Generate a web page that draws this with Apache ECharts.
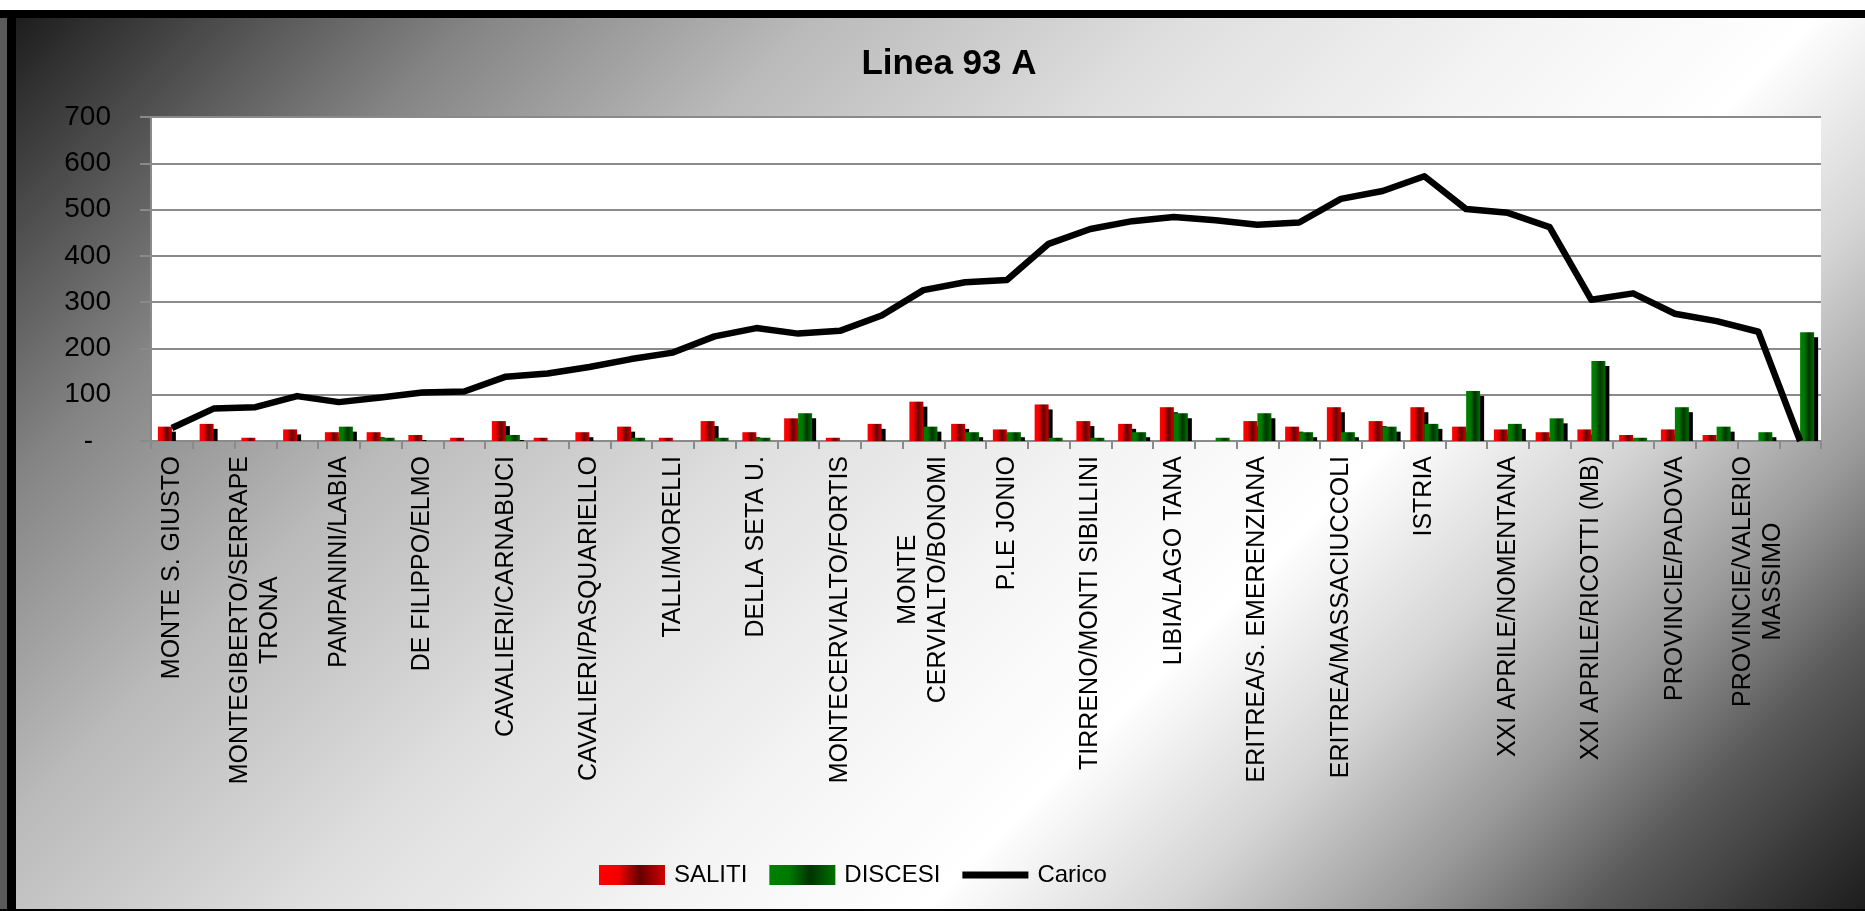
<!DOCTYPE html>
<html>
<head>
<meta charset="utf-8">
<title>Linea 93 A</title>
<script src="https://cdn.jsdelivr.net/npm/echarts@6/dist/echarts.min.js"></script>
<style>
  html, body { margin: 0; padding: 0; background: #fff; }
  #chart { width: 1865px; height: 911px; }
</style>
</head>
<body>
<div id="chart"></div>
<script>
// Fermate della linea (solo quelle pari hanno l'etichetta sull'asse)
const fermate = [
  'MONTE S. GIUSTO', '',
  'MONTEGIBERTO/SERRAPE\nTRONA', '',
  'PAMPANINI/LABIA', '',
  'DE FILIPPO/ELMO', '',
  'CAVALIERI/CARNABUCI', '',
  'CAVALIERI/PASQUARIELLO', '',
  'TALLI/MORELLI', '',
  'DELLA SETA U.', '',
  'MONTECERVIALTO/FORTIS', '',
  'MONTE\nCERVIALTO/BONOMI', '',
  'P.LE JONIO', '',
  'TIRRENO/MONTI SIBILLINI', '',
  'LIBIA/LAGO TANA', '',
  'ERITREA/S. EMERENZIANA', '',
  'ERITREA/MASSACIUCCOLI', '',
  'ISTRIA', '',
  'XXI APRILE/NOMENTANA', '',
  'XXI APRILE/RICOTTI (MB)', '',
  'PROVINCIE/PADOVA', '',
  'PROVINCIE/VALERIO\nMASSIMO', ''
];

const saliti = [31, 37, 7, 25, 19, 19, 13, 7, 43, 7,
                19, 31, 7, 43, 19, 49, 7, 37, 85, 37,
                25, 79, 43, 37, 73, 0, 43, 31, 73, 43,
                73, 31, 25, 19, 25, 13, 25, 13, 0, 0];

const discesi = [0, 0, 0, 0, 31, 7, 0, 0, 13, 0,
                 0, 7, 0, 7, 7, 60, 0, 0, 31, 19,
                 19, 7, 7, 19, 60, 7, 60, 19, 19, 31,
                 37, 108, 37, 49, 173, 7, 73, 31, 19, 235];

const carico = [28, 70, 73, 97, 84, 94, 105, 107, 139, 146,
                160, 177, 191, 226, 244, 232, 238, 271, 326, 343,
                348, 426, 458, 475, 484, 477, 467, 472, 523, 540,
                572, 501, 493, 462, 305, 319, 275, 259, 236, 0];

const yMin = 0, yMax = 700, yStep = 100;

const FONT = '"Liberation Sans", Arial, sans-serif';
const BAR_W = 14;          // larghezza di ciascuna barra
const SHADOW_DX = 4;       // ombra delle barre
const SHADOW_DY = 5;
const W = 1865, H = 911;

function hGrad(stops) {
  return {
    type: 'linear', x: 0, y: 0, x2: 1, y2: 0,
    colorStops: stops.map(([o, c]) => ({ offset: o, color: c }))
  };
}

const redFill = hGrad([[0, '#ff0000'], [0.3, '#f00000'], [0.62, '#660000'], [1, '#d00000']]);
const greenFill = hGrad([[0, '#008000'], [0.3, '#007800'], [0.62, '#003400'], [1, '#007000']]);

// Sfondo diagonale scuro - chiaro - scuro
const half = (W + H) / 2;
const background = {
  type: 'linear', x: 0, y: 0, x2: half, y2: half, global: true,
  colorStops: [
    { offset: 0, color: '#161616' },
    { offset: 0.08, color: '#484848' },
    { offset: 0.18, color: '#858585' },
    { offset: 0.3, color: '#bababa' },
    { offset: 0.44, color: '#e0e0e0' },
    { offset: 0.57, color: '#f5f5f5' },
    { offset: 0.66, color: '#ffffff' },
    { offset: 0.75, color: '#d4d4d4' },
    { offset: 0.83, color: '#9a9a9a' },
    { offset: 0.9, color: '#5a5a5a' },
    { offset: 1, color: '#1c1c1c' }
  ]
};

const chart = echarts.init(document.getElementById('chart'), null, { renderer: 'canvas' });

const option = {
  backgroundColor: background,
  animation: false,
  title: {
    text: 'Linea 93 A',
    left: 944,
    textAlign: 'center',
    top: 42,
    textStyle: { fontFamily: FONT, fontSize: 35, fontWeight: 'bold', color: '#000' }
  },
  legend: {
    left: 594,
    top: 858,
    itemWidth: 66,
    itemHeight: 20,
    itemGap: 22,
    textStyle: { fontFamily: FONT, fontSize: 24, color: '#000', padding: [0, 0, 0, 4] },
    data: [
      { name: 'SALITI', icon: 'rect' },
      { name: 'DISCESI', icon: 'rect' },
      { name: 'Carico', icon: 'path://M0,0H66V7H0Z' }
    ]
  },
  grid: {
    left: 151,
    right: 44,
    top: 117,
    bottom: 470,
    show: true,
    backgroundColor: '#ffffff',
    borderWidth: 0,
    containLabel: false,
    outerBoundsMode: 'none'
  },
  xAxis: {
    type: 'category',
    data: fermate,
    boundaryGap: true,
    axisLine: { show: true, lineStyle: { color: '#8a8a8a', width: 2 } },
    axisTick: { show: true, interval: 0, length: 8, lineStyle: { color: '#8a8a8a', width: 2 } },
    splitLine: { show: false },
    axisLabel: {
      interval: 1,
      rotate: 90,
      margin: 15,
      color: '#000',
      fontFamily: FONT,
      fontSize: 25,
      formatter: (val) => val ? val.split('\n').map(l => '{c|' + l + '}').join('\n') : '',
      rich: {
        c: { fontFamily: FONT, fontSize: 25, lineHeight: 30, align: 'center', color: '#000' }
      }
    }
  },
  yAxis: {
    type: 'value',
    min: yMin,
    max: yMax,
    interval: yStep,
    axisLine: { show: true, lineStyle: { color: '#8a8a8a', width: 2 } },
    axisTick: { show: true, length: 11, lineStyle: { color: '#8a8a8a', width: 2 } },
    splitLine: { show: true, lineStyle: { color: '#8a8a8a', width: 2 } },
    axisLabel: {
      margin: 40,
      color: '#000',
      fontFamily: FONT,
      fontSize: 28,
      formatter: (v) => v === 0 ? '{z|-}' : String(v),
      rich: {
        z: { fontFamily: FONT, fontSize: 28, color: '#000', padding: [0, 18, 0, 0] }
      }
    }
  },
  series: [
    {
      // ombre nere sotto le barre
      name: 'ombra',
      type: 'custom',
      silent: true,
      z: 1,
      data: saliti.map((s, i) => [i, s, discesi[i]]),
      encode: { x: 0, y: 1 },
      renderItem: function (params, api) {
        const i = api.value(0);
        const base = api.coord([i, 0]);
        const parts = [];
        [[api.value(1), -BAR_W], [api.value(2), 0]].forEach(([v, dx]) => {
          if (!(v > 0)) return;
          const top = api.coord([i, v])[1] + SHADOW_DY;
          const h = base[1] - top;
          if (h <= 0) return;
          parts.push({
            type: 'rect',
            shape: { x: base[0] + dx + SHADOW_DX, y: top, width: BAR_W, height: h },
            style: { fill: '#000' }
          });
        });
        return { type: 'group', children: parts };
      }
    },
    {
      name: 'SALITI',
      type: 'bar',
      z: 2,
      data: saliti,
      barWidth: BAR_W,
      barGap: '0%',
      itemStyle: { color: redFill }
    },
    {
      name: 'DISCESI',
      type: 'bar',
      z: 2,
      data: discesi,
      barWidth: BAR_W,
      barGap: '0%',
      itemStyle: { color: greenFill }
    },
    {
      name: 'Carico',
      type: 'line',
      z: 3,
      data: carico,
      symbol: 'none',
      showSymbol: false,
      smooth: false,
      lineStyle: { color: '#000', width: 6.5, join: 'round' },
      itemStyle: { color: '#000' }
    }
  ],
  graphic: [
    // cornice
    { type: 'rect', z: 100, silent: true, shape: { x: 0, y: 0, width: W, height: 10 }, style: { fill: '#ffffff' } },
    { type: 'rect', z: 100, silent: true, shape: { x: 0, y: 10, width: W, height: 8 }, style: { fill: '#000000' } },
    { type: 'rect', z: 100, silent: true, shape: { x: 0, y: 18, width: 7, height: H - 18 }, style: { fill: '#5a5a5a' } },
    { type: 'rect', z: 100, silent: true, shape: { x: 7, y: 10, width: 9, height: H - 10 }, style: { fill: '#000000' } },
    { type: 'rect', z: 100, silent: true, shape: { x: 0, y: H - 2, width: W, height: 2 }, style: { fill: '#000000' } }
  ]
};

chart.setOption(option);
</script>
</body>
</html>
